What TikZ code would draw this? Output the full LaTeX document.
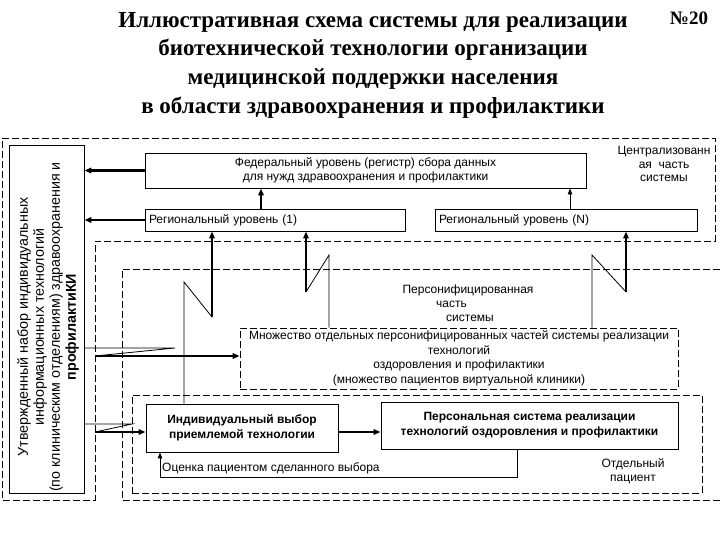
\documentclass[tikz,border=0pt]{standalone}
\usepackage{fontspec}
\setmainfont{Liberation Sans}
\newfontfamily\serifx{Liberation Serif}
\usetikzlibrary{arrows.meta}
\begin{document}
\begin{tikzpicture}[x=1pt,y=-1pt,
  box/.style={draw, line width=0.9pt, inner sep=0pt},
  dbox/.style={draw, line width=0.8pt, dash pattern=on 7pt off 3pt},
  thk/.style={line width=2.2pt},
  thn/.style={line width=0.8pt},
  arr/.style={-{Triangle[length=7pt,width=5.5pt]}},
  sarr/.style={-{Triangle[length=6pt,width=4.5pt]}},
  txt/.style={font=\fontsize{12}{14.5}\selectfont, align=center, inner sep=0pt},
  btxt/.style={font=\bfseries\fontsize{12}{15}\selectfont, align=center, inner sep=0pt}
]
\useasboundingbox (0,0) rectangle (720,540);

% title
\node[font=\serifx\bfseries\fontsize{23}{28.7}\selectfont, align=center] (title) at (373,65)
 {Иллюстративная схема системы для реализации\\биотехнической технологии организации\\медицинской поддержки населения\\в области здравоохранения и профилактики};
\node[font=\serifx\bfseries\fontsize{19}{22}\selectfont] (num) at (689,18) {№20};

% dashed regions
\draw[dbox] (2,138) -- (715,138) -- (715,241) -- (95,241) -- (95,500) -- (2,500) -- cycle;
\draw[dbox] (720,269) -- (122,269) -- (122,500) -- (720,500);
\node[dbox, minimum width=570pt, minimum height=98pt, inner sep=0pt] (patient) at (417,444) {};

% vertical box
\node[box, minimum width=75pt, minimum height=348pt] (vbox) at (46.5,319) {};
\node[rotate=90, font=\fontsize{14.3}{16}\selectfont, align=center] (vtext) at (48,327)
 {Утвержденный набор индивидуальных\\информационных технологий\\(по клиническим отделениям) здравоохранения и\\\textbf{профилактиКИ}};

% central boxes
\node[box, minimum width=441pt, minimum height=35pt, txt] (fed) at (365.5,170.5)
 {Федеральный уровень (регистр) сбора данных\\для нужд здравоохранения и профилактики};
\node[txt, font=\fontsize{12}{13.5}\selectfont] (central) at (664,164) {Централизованн\\ая\ \ часть\\системы};
\node[box, minimum height=22pt, text width=252pt, inner xsep=4pt, align=left,
      font=\fontsize{12}{13}\selectfont] (reg1) at (275,220) {Региональный уровень (1)};
\node[box, minimum height=22pt, text width=254pt, inner xsep=4pt, align=left,
      font=\fontsize{12}{13}\selectfont] (regN) at (566,220) {Региональный уровень (N)};

% personified part
\node[txt, anchor=center] (pers1) at (468,290) {Персонифицированная};
\node[txt, anchor=west] (pers2) at (436,304) {часть};
\node[txt, anchor=west] (pers3) at (446,318) {системы};
\node[dbox, minimum width=438pt, minimum height=61pt, inner sep=0pt, txt] (mnoz) at (459,358.5)
 {Множество отдельных персонифицированных частей системы реализации\\технологий\\оздоровления и профилактики\\(множество пациентов виртуальной клиники)};

% patient part
\node[box, minimum width=192pt, minimum height=48pt, btxt] (ind) at (242,428)
 {Индивидуальный выбор\\приемлемой технологии};
\node[box, minimum width=297pt, minimum height=47pt, btxt] (pers) at (529.5,425.5)
 {Персональная система реализации\\технологий оздоровления и профилактики};
\node[txt, font=\fontsize{12}{14.5}\selectfont] (patlbl) at (633,471) {Отдельный\\пациент};

% arrows to the vertical box
\draw[thk, arr] (fed.west) -- (vbox.east |- fed.west);
\draw[thk, arr] (reg1.west) -- (vbox.east |- reg1.west);

% regional -> federal
\coordinate (a1) at (261,0);
\coordinate (a2) at (570,0);
\draw[thk, arr] (reg1.north -| a1) -- (fed.south -| a1);
\draw[thn, sarr] (regN.north -| a2) -- (fed.south -| a2);

% vertical break connectors
\coordinate (l1a) at (184,282); \coordinate (l1b) at (212,317);
\draw[thn] (ind.north -| l1a) -- (l1a) -- (l1b);
\draw[thk, arr] (l1b) -- (reg1.south -| l1b);
\coordinate (l2a) at (329,255); \coordinate (l2b) at (306,292);
\draw[thn] (mnoz.north -| l2a) -- (l2a) -- (l2b);
\draw[thk, arr] (l2b) -- (reg1.south -| l2b);
\coordinate (l3a) at (592,255); \coordinate (l3b) at (626,292);
\draw[thn] (mnoz.north -| l3a) -- (l3a) -- (l3b);
\draw[thk, arr] (l3b) -- (regN.south -| l3b);

% horizontal break connectors
\coordinate (h1a) at (175,348); \coordinate (h1b) at (95,356);
\draw[thn] (vbox.east |- h1a) -- (h1a) -- (h1b);
\draw[thk, arr] (h1b) -- (mnoz.west |- h1b);
\coordinate (h2a) at (132,424); \coordinate (h2b) at (95,432);
\draw[thn] (vbox.east |- h2a) -- (h2a) -- (h2b);
\draw[thk, arr] (h2b) -- (ind.west |- h2b);

% individual -> personal
\coordinate (ip) at (0,432);
\draw[thk, arr] (ind.east |- ip) -- (pers.west |- ip);

% feedback
\coordinate (fb1) at (517,477); \coordinate (fb2) at (160,477);
\draw[thn, sarr] (pers.south -| fb1) -- (fb1) -- (fb2) -- (ind.south -| fb2);
\node[txt, anchor=west] (fblbl) at (162,468) {Оценка пациентом сделанного выбора};
\end{tikzpicture}
\end{document}
